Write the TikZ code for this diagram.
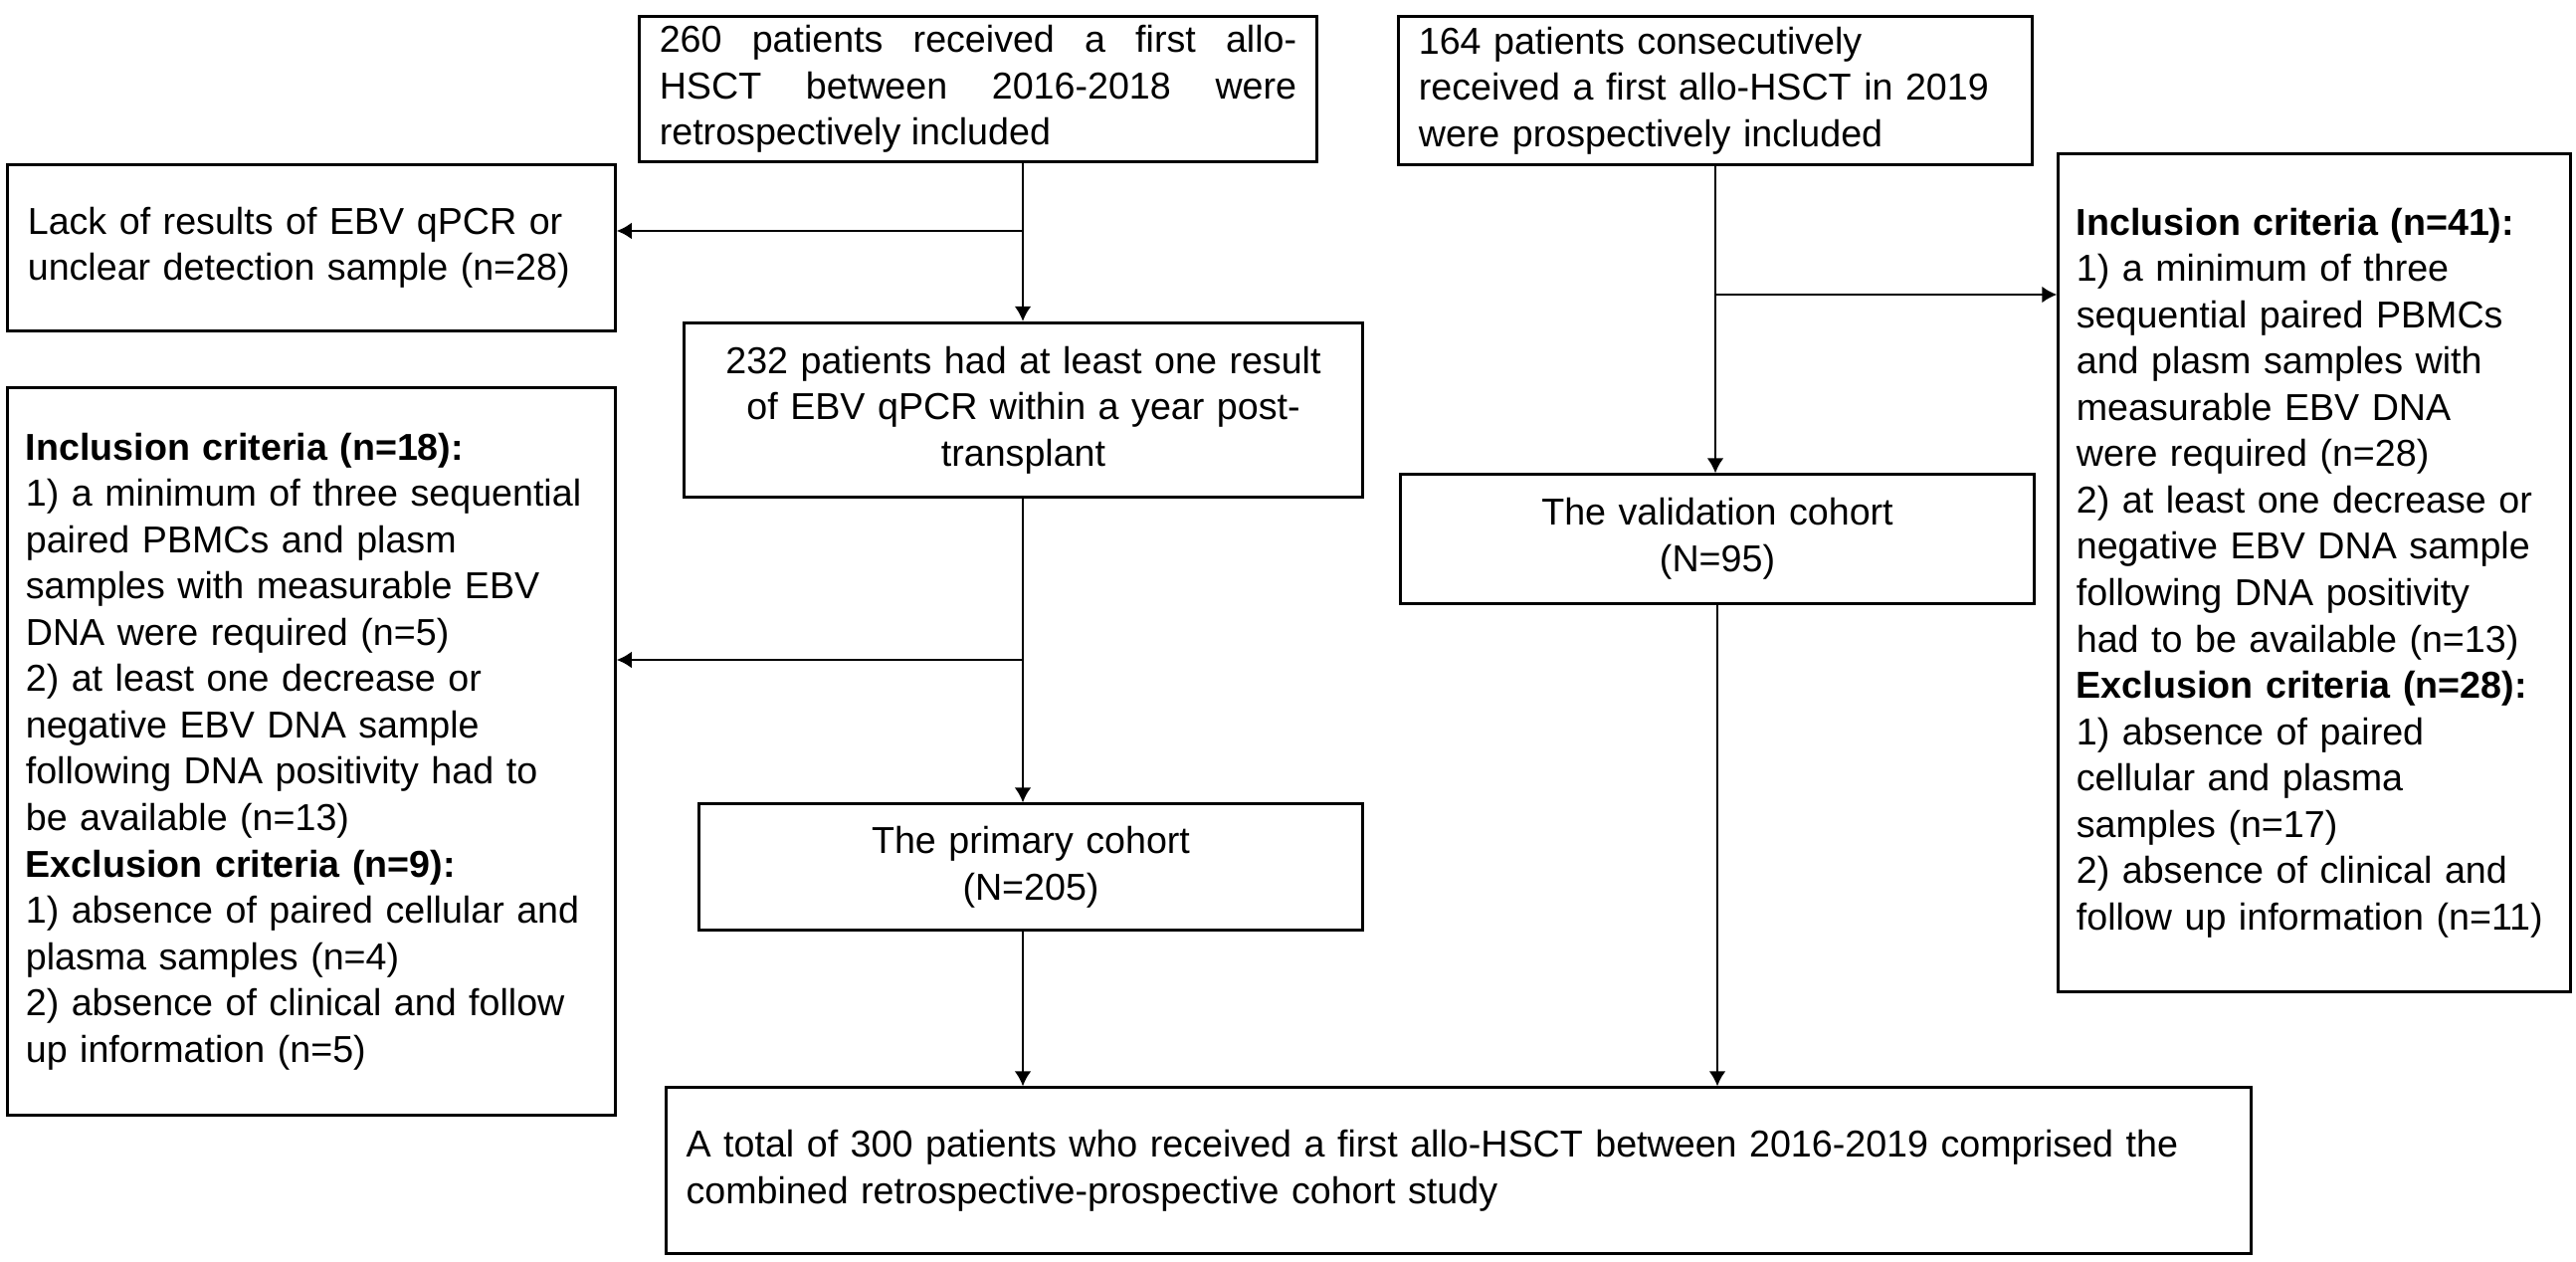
\documentclass[tikz,border=0pt]{standalone}
\usepackage{fontspec}
\setmainfont{Liberation Sans}
\usetikzlibrary{arrows.meta, calc, positioning}

\begin{document}
\begin{tikzpicture}[x=0.01cm, y=-0.01cm, >={Latex[length=4.3pt,width=4.8pt]},
  box/.style={draw, line width=0.85pt, inner xsep=0.2cm, inner ysep=0pt, font=\fontsize{10.7}{13.23}\selectfont},
  arrow/.style={->, line width=0.75pt}]

\useasboundingbox (0,0) rectangle (2589,1267);

\node[box, text width=6.4cm, minimum height=1.46cm, align=justify] (retro) at (983,89.5) {260 patients received a first allo-\linebreak HSCT between 2016-2018 were\linebreak retrospectively included};
\node[box, text width=5.96cm, minimum height=1.48cm, align=left] (pro) at (1724,91) {164 patients consecutively\\received a first allo-HSCT in 2019\\were prospectively included};

\node[box, text width=5.7cm, minimum height=1.66cm, align=left] (lack) at (313,249) {Lack of results of EBV qPCR or\\unclear detection sample (n=28)};
\node[box, inner xsep=0.15cm, text width=6.51cm, minimum height=1.75cm, align=center] (atleast) at (1028.5,412) {232 patients had at least one result\\of EBV qPCR within a year post-\\transplant};

\node[box, inner xsep=0.18cm, text width=5.74cm, minimum height=7.3cm, align=left] (critL) at (313,755) {\textbf{Inclusion criteria (n=18):}\\1) a minimum of three sequential\\paired PBMCs and plasm\\samples with measurable EBV\\DNA were required (n=5)\\2) at least one decrease or\\negative EBV DNA sample\\following DNA positivity had to\\be available (n=13)\\\textbf{Exclusion criteria (n=9):}\\1) absence of paired cellular and\\plasma samples (n=4)\\2) absence of clinical and follow\\up information (n=5)};
\node[box, inner xsep=0.18cm, text width=4.78cm, minimum height=8.41cm, align=left] (critR) at (2326,575.5) {\textbf{Inclusion criteria (n=41):}\\1) a minimum of three\\sequential paired PBMCs\\and plasm samples with\\measurable EBV DNA\\were required (n=28)\\2) at least one decrease or\\negative EBV DNA sample\\following DNA positivity\\had to be available (n=13)\\\textbf{Exclusion criteria (n=28):}\\1) absence of paired\\cellular and plasma\\samples (n=17)\\2) absence of clinical and\\follow up information (n=11)};

\node[box, inner xsep=0.15cm, text width=6.06cm, minimum height=1.29cm, align=center] (valid) at (1726,541.5) {The validation cohort\\(N=95)};
\node[box, inner xsep=0.15cm, text width=6.36cm, minimum height=1.26cm, align=center] (primary) at (1036,871) {The primary cohort\\(N=205)};
\node[box, text width=15.52cm, minimum height=1.66cm, align=left] (total) at (1466,1176) {A total of 300 patients who received a first allo-HSCT between 2016-2019 comprised the\\combined retrospective-prospective cohort study};

\coordinate (j1) at (1028,232);
\coordinate (j2) at (1028,663);
\coordinate (j3) at (1724,296);

\draw[arrow] (retro.south -| j1) -- (atleast.north -| j1);
\draw[arrow] (j1) -- (j1 -| lack.east);
\draw[arrow] (atleast.south -| j2) -- (primary.north -| j2);
\draw[arrow] (j2) -- (j2 -| critL.east);
\draw[arrow] (primary.south -| j2) -- (total.north -| j2);
\draw[arrow] (pro.south -| j3) -- (valid.north -| j3);
\draw[arrow] (j3) -- (j3 -| critR.west);
\draw[arrow] (valid.south) -- (valid.south |- total.north);

\end{tikzpicture}
\end{document}
